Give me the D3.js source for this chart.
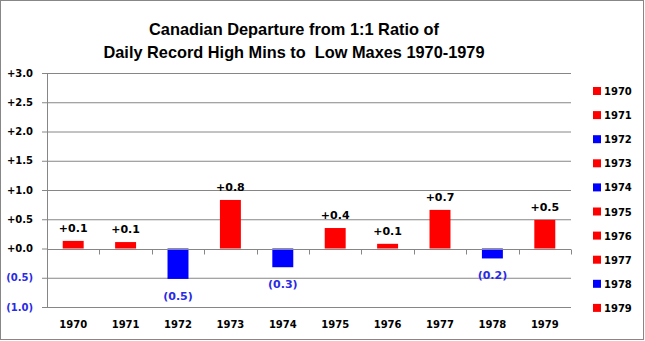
<!DOCTYPE html>
<html>
<head>
<meta charset="utf-8">
<script src="https://cdn.jsdelivr.net/npm/d3@7"></script>
<style>
  body { margin: 0; background: #fff; }
  text { font-family: "DejaVu Sans", Verdana, sans-serif; font-weight: bold; }
</style>
</head>
<body>
<script>
// chart data
const years = ["1970", "1971", "1972", "1973", "1974", "1975", "1976", "1977", "1978", "1979"];
const departures = [0.13, 0.11, -0.52, 0.83, -0.32, 0.35, 0.08, 0.66, -0.17, 0.49];
const valueLabels = ["+0.1", "+0.1", "(0.5)", "+0.8", "(0.3)", "+0.4", "+0.1", "+0.7", "(0.2)", "+0.5"];
const yTicks = [3.0, 2.5, 2.0, 1.5, 1.0, 0.5, 0.0, -0.5, -1.0];
const titleLines = ["Canadian Departure from 1:1 Ratio of", "Daily Record High Mins to  Low Maxes 1970-1979"];

const width = 645, height = 341;
const margin = {top: 73, right: 74, bottom: 34, left: 47};
const RED = "#ff0000", BLUE = "#0000ff", LABEL_BLUE = "#2a2ae6";
const fmt = v => v < 0 ? "(" + Math.abs(v).toFixed(1) + ")" : "+" + v.toFixed(1);

const svg = d3.select("body").append("svg")
    .attr("width", width)
    .attr("height", height);

svg.append("rect")
    .attr("x", 0.5).attr("y", 0.5)
    .attr("width", width - 2).attr("height", height - 2)
    .attr("fill", "#fff")
    .attr("stroke", "#878787");

const x = d3.scaleBand()
    .domain(years)
    .range([margin.left, width - margin.right])
    .paddingInner(0.6)
    .paddingOuter(0.3);

const y = d3.scaleLinear()
    .domain([-1, 3])
    .range([height - margin.bottom, margin.top]);

// title
const titleWidths = [290, 381];
svg.append("g").selectAll("text")
    .data(titleLines)
    .join("text")
    .attr("x", 294)
    .attr("y", (d, i) => 35 + i * 23)
    .attr("text-anchor", "middle")
    .style("font-family", "'Liberation Sans Narrow', 'Liberation Sans', Arial, sans-serif")
    .style("font-size", "17px")
    .style("white-space", "pre")
    .attr("textLength", (d, i) => titleWidths[i])
    .attr("lengthAdjust", "spacingAndGlyphs")
    .text(d => d);

// gridlines + y axis
const yAxis = svg.append("g")
    .attr("transform", `translate(${margin.left},0)`)
    .call(d3.axisLeft(y)
        .tickValues(yTicks)
        .tickSize(5)
        .tickSizeOuter(0)
        .tickFormat(fmt));
yAxis.select(".domain").attr("stroke", "#868686");
yAxis.selectAll(".tick line").attr("stroke", "#868686");
yAxis.selectAll(".tick text")
    .attr("x", -14)
    .style("font-size", "10px")
    .attr("fill", d => d < 0 ? LABEL_BLUE : "#000");

svg.append("g").selectAll("line")
    .data(yTicks.filter(d => d !== 0))
    .join("line")
    .attr("x1", margin.left)
    .attr("x2", width - margin.right)
    .attr("y1", d => y(d) + 0.5)
    .attr("y2", d => y(d) + 0.5)
    .attr("stroke", "#868686");

// bars
svg.append("g").selectAll("rect")
    .data(years)
    .join("rect")
    .attr("x", d => x(d))
    .attr("width", x.bandwidth())
    .attr("y", (d, i) => y(Math.max(0, departures[i])))
    .attr("height", (d, i) => Math.abs(y(departures[i]) - y(0)))
    .attr("fill", (d, i) => departures[i] < 0 ? BLUE : RED);

// zero line with category ticks
const step = x.step();
const xAxis = svg.append("g")
    .attr("transform", `translate(0,${Math.round(y(0)) + 0.5})`);
xAxis.append("line")
    .attr("x1", margin.left).attr("x2", width - margin.right)
    .attr("stroke", "#868686");
xAxis.selectAll(".cat-tick")
    .data(d3.range(years.length + 1))
    .join("line")
    .attr("class", "cat-tick")
    .attr("x1", i => Math.round(margin.left + i * step) + 0.5)
    .attr("x2", i => Math.round(margin.left + i * step) + 0.5)
    .attr("y1", 0).attr("y2", 5)
    .attr("stroke", "#868686");

// category labels
svg.append("g").selectAll("text")
    .data(years)
    .join("text")
    .attr("x", d => x(d) + x.bandwidth() / 2)
    .attr("y", height - 13)
    .attr("text-anchor", "middle")
    .style("font-size", "10px")
    .text(d => d);

// value labels
svg.append("g").selectAll("text")
    .data(years)
    .join("text")
    .attr("x", d => x(d) + x.bandwidth() / 2)
    .attr("y", (d, i) => departures[i] < 0 ? y(departures[i]) + 21 : y(departures[i]) - 9)
    .attr("text-anchor", "middle")
    .style("font-size", "11px")
    .attr("fill", (d, i) => departures[i] < 0 ? LABEL_BLUE : "#000")
    .text((d, i) => valueLabels[i]);

// legend
const legend = svg.append("g").selectAll("g")
    .data(years)
    .join("g")
    .attr("transform", (d, i) => `translate(593,${91 + i * 24.1})`);
legend.append("rect")
    .attr("x", 0).attr("y", -4)
    .attr("width", 8).attr("height", 8)
    .attr("fill", (d, i) => departures[i] < 0 ? BLUE : RED);
legend.append("text")
    .attr("x", 11)
    .attr("y", 4)
    .style("font-size", "10px")
    .text(d => d);
</script>
</body>
</html>
